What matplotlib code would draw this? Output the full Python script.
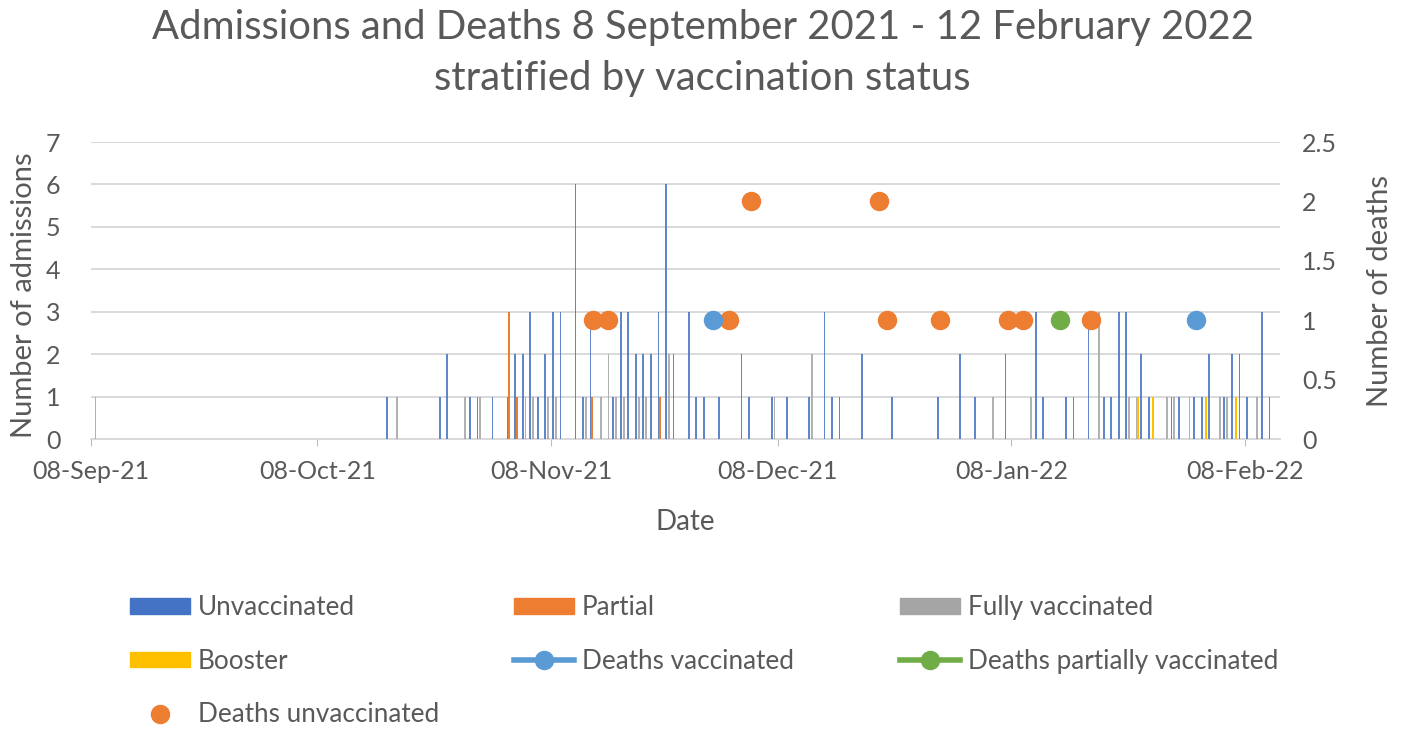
import matplotlib
matplotlib.use('Agg')
import matplotlib.pyplot as plt
import matplotlib.dates as mdates
from matplotlib.patches import Patch
from matplotlib.lines import Line2D
import pandas as pd

# Daily admissions by vaccination status
unvacc_dates = ['2021-10-17', '2021-10-24', '2021-10-25', '2021-10-28', '2021-10-29', '2021-10-31',
                '2021-11-02', '2021-11-03', '2021-11-04', '2021-11-05', '2021-11-06', '2021-11-07',
                '2021-11-08', '2021-11-09', '2021-11-11', '2021-11-12', '2021-11-13', '2021-11-16',
                '2021-11-17', '2021-11-18', '2021-11-19', '2021-11-20', '2021-11-21', '2021-11-22',
                '2021-11-23', '2021-11-24', '2021-11-26', '2021-11-27', '2021-11-28', '2021-11-30',
                '2021-12-03', '2021-12-04', '2021-12-07', '2021-12-09', '2021-12-12', '2021-12-14',
                '2021-12-15', '2021-12-16', '2021-12-19', '2021-12-23', '2021-12-29', '2022-01-01',
                '2022-01-03', '2022-01-07', '2022-01-11', '2022-01-12', '2022-01-15', '2022-01-16',
                '2022-01-18', '2022-01-20', '2022-01-21', '2022-01-22', '2022-01-23', '2022-01-25',
                '2022-01-26', '2022-01-29', '2022-01-30', '2022-02-01', '2022-02-02', '2022-02-03',
                '2022-02-05', '2022-02-06', '2022-02-07', '2022-02-08', '2022-02-10', '2022-02-11']
unvacc_counts = [1, 1, 2, 1, 1, 1,
                 1, 2, 2, 3, 1, 2,
                 3, 3, 6, 1, 3, 1,
                 3, 3, 2, 2, 2, 3,
                 6, 2, 3, 1, 1, 1,
                 2, 1, 1, 1, 1, 3,
                 1, 1, 2, 1, 1, 2,
                 1, 2, 3, 1, 1, 1,
                 3, 1, 1, 3, 3, 2,
                 1, 1, 1, 1, 1, 2,
                 1, 2, 2, 1, 3, 1]

partial_dates = ['2021-11-02', '2021-11-03', '2021-11-13', '2021-11-22']
partial_counts = [3, 1, 1, 1]

full_dates = ['2021-09-08', '2021-10-18', '2021-10-27', '2021-10-29', '2021-11-04', '2021-11-05',
              '2021-11-07', '2021-11-08', '2021-11-12', '2021-11-14', '2021-11-15', '2021-11-16',
              '2021-11-17', '2021-11-19', '2021-11-20', '2021-11-23', '2021-12-07', '2021-12-12',
              '2022-01-05', '2022-01-10', '2022-01-19', '2022-01-23', '2022-01-24', '2022-01-28',
              '2022-01-29', '2022-01-31', '2022-02-04', '2022-02-05', '2022-02-09']
full_counts = [1, 1, 1, 1, 1, 1,
               1, 1, 1, 1, 2, 1,
               1, 1, 1, 2, 1, 2,
               1, 1, 3, 1, 1, 1,
               1, 1, 1, 1, 1]

booster_dates = ['2022-01-24', '2022-01-26', '2022-02-02', '2022-02-06']
booster_counts = [1, 1, 1, 1]

# Deaths
death_unvacc_dates = ['2021-11-13', '2021-11-15', '2021-12-01', '2021-12-04', '2021-12-21',
                      '2021-12-22', '2021-12-29', '2022-01-07', '2022-01-09', '2022-01-18']
death_unvacc_counts = [1, 1, 1, 2, 2, 1, 1, 1, 1, 1]
death_vacc_dates = ['2021-11-29', '2022-02-01']
death_vacc_counts = [1, 1]
death_partial_dates = ['2022-01-14']
death_partial_counts = [1]

tick_dates = ['2021-09-08', '2021-10-08', '2021-11-08', '2021-12-08', '2022-01-08', '2022-02-08']

FONT = 'Lato'
TXT = '#595959'
plt.rcParams['font.family'] = [FONT, 'DejaVu Sans']


def pos(dates, offset):
    return mdates.date2num(pd.to_datetime(dates)) + offset


fig = plt.figure(figsize=(14.05, 7.29), dpi=100)
ax = fig.add_axes([91 / 1405, 1 - 439.3 / 729, (1280 - 91) / 1405, (439.3 - 142) / 729])

w = 0.24
ax.bar(pos(unvacc_dates, 0.22), unvacc_counts, width=w, color='#4472C4', alpha=0.85, zorder=3)
ax.bar(pos(partial_dates, 0.42), partial_counts, width=w, color='#ED7D31', zorder=3)
ax.bar(pos(full_dates, 0.6), full_counts, width=w, color='#A5A5A5', alpha=0.85, zorder=3)
ax.bar(pos(booster_dates, 0.78), booster_counts, width=w, color='#FFC000', zorder=3)

x0 = mdates.date2num(pd.Timestamp('2021-09-08'))
ax.set_xlim(x0, x0 + 157.6)
ax.set_ylim(0, 7)
ax.set_yticks(range(0, 8))
ax.yaxis.grid(True, color='#D9D9D9', lw=1.4)
ax.set_axisbelow(True)
ax.set_xticks(pos(tick_dates, 0))
ax.xaxis.set_major_formatter(mdates.DateFormatter('%d-%b-%y'))
for s in ['top', 'left', 'right']:
    ax.spines[s].set_visible(False)
ax.spines['bottom'].set_color('#D9D9D9')
ax.spines['bottom'].set_linewidth(1.4)
ax.tick_params(axis='x', length=5, color='#BFBFBF', colors=TXT, labelsize=18, pad=10)
ax.tick_params(axis='y', length=0, colors=TXT, labelsize=18, pad=22)

ax2 = ax.twinx()
ax2.plot(pos(death_unvacc_dates, 0.5), death_unvacc_counts, 'o', ms=13, color='#ED7D31', zorder=4)
ax2.plot(pos(death_vacc_dates, 0.5), death_vacc_counts, 'o', ms=13, color='#5B9BD5', zorder=4)
ax2.plot(pos(death_partial_dates, 0.5), death_partial_counts, 'o', ms=13, color='#70AD47', zorder=4)
ax2.set_ylim(0, 2.5)
ax2.set_yticks([0, 0.5, 1, 1.5, 2, 2.5])
ax2.set_yticklabels(['0', '0.5', '1', '1.5', '2', '2.5'])
for s in ['top', 'left', 'right', 'bottom']:
    ax2.spines[s].set_visible(False)
ax2.tick_params(axis='y', length=0, colors=TXT, labelsize=18, pad=16)

ax.set_ylabel('Number of admissions', fontsize=21, color=TXT)
ax.yaxis.set_label_coords(-0.045, 0.485)
ax2.set_ylabel('Number of deaths', fontsize=21, color=TXT)
ax2.yaxis.set_label_coords(1.073, 0.5)
ax.set_xlabel('Date', fontsize=20, color=TXT)
ax.xaxis.set_label_coords(0.5, -0.235)

fig.text(0.5, 1 - 53 / 729,
         'Admissions and Deaths 8 September 2021 - 12 February 2022\nstratified by vaccination status',
         ha='center', va='center', fontsize=28.8, color=TXT, linespacing=1.48)

# Legend, three columns placed separately
cols = [
    (130, [Patch(color='#4472C4', label='Unvaccinated'),
           Patch(color='#FFC000', label='Booster'),
           Line2D([], [], ls='none', marker='o', ms=13, color='#ED7D31', label='Deaths unvaccinated')]),
    (514, [Patch(color='#ED7D31', label='Partial'),
           Line2D([], [], lw=4, marker='o', ms=13, color='#5B9BD5', label='Deaths vaccinated')]),
    (900, [Patch(color='#A5A5A5', label='Fully vaccinated'),
           Line2D([], [], lw=4, marker='o', ms=13, color='#70AD47', label='Deaths partially vaccinated')]),
]
for x, handles in cols:
    leg = fig.legend(handles=handles, loc='upper left', bbox_to_anchor=(x / 1405, 1 - 595 / 729),
                     frameon=False, fontsize=18.8, handlelength=2.3, handleheight=0.55,
                     handletextpad=0.3, labelspacing=1.1, borderpad=0, borderaxespad=0)
    for t in leg.get_texts():
        t.set_color(TXT)

fig.savefig('out.png', dpi=100)
